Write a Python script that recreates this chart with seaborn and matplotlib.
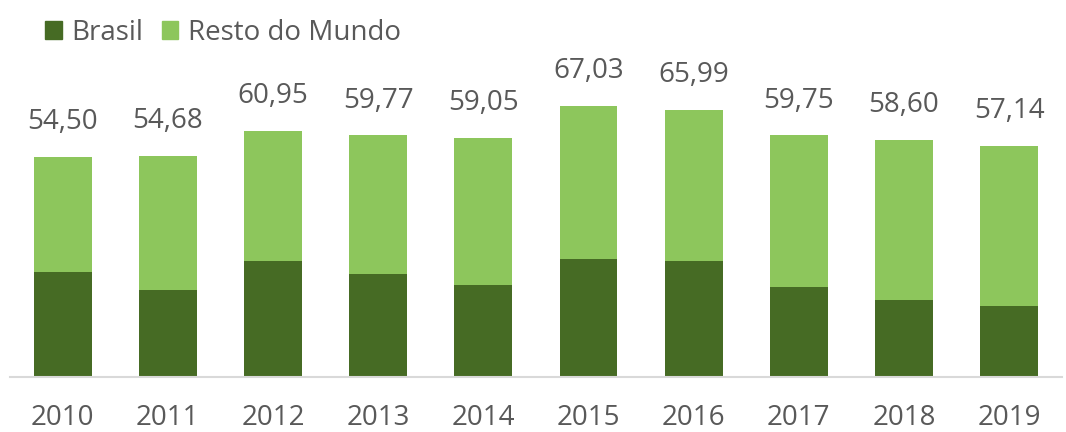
import pandas as pd
import seaborn as sns
import matplotlib.pyplot as plt
from matplotlib.patches import Patch

# ==========================================================
# DATA
# ==========================================================

years = ["2010", "2011", "2012", "2013", "2014", "2015", "2016", "2017", "2018", "2019"]
total = [54.50, 54.68, 60.95, 59.77, 59.05, 67.03, 65.99, 59.75, 58.60, 57.14]
brasil = [26.1, 21.5, 28.8, 25.4, 22.8, 29.2, 28.8, 22.4, 19.0, 17.7]

DARK = "#466B24"
LIGHT = "#8DC65C"
TEXT = "#595959"
FONT = "Open Sans"

df = pd.DataFrame({"ano": years, "total": total, "brasil": brasil})

# ==========================================================
# PLOT
# ==========================================================

sns.set_style("white")
plt.rcParams["font.family"] = [FONT, "DejaVu Sans"]

fig = plt.figure(figsize=(10.66, 4.32), dpi=100)
ax = fig.add_axes([0.0094, 0.127, 0.9866, 0.734])

# stacked look: total bar (light) with Brasil bar (dark) drawn over it
sns.barplot(data=df, x="ano", y="total", color=LIGHT, width=0.55,
            saturation=1, linewidth=0, ax=ax)
sns.barplot(data=df, x="ano", y="brasil", color=DARK, width=0.55,
            saturation=1, linewidth=0, ax=ax)

for i, v in enumerate(total):
    ax.annotate(f"{v:.2f}".replace(".", ","), (i, v), xytext=(0, 15),
                textcoords="offset points", ha="center", va="bottom",
                fontsize=20, color=TEXT)

ax.set_ylim(0, 78.4)
ax.set_xlim(-0.5, 9.5)
ax.set_xlabel("")
ax.set_ylabel("")
ax.set_yticks([])
ax.tick_params(axis="x", length=0, pad=19, labelsize=20, labelcolor=TEXT)
for s in ["top", "right", "left"]:
    ax.spines[s].set_visible(False)
ax.spines["bottom"].set_color("#D9D9D9")
ax.spines["bottom"].set_linewidth(1.5)

handles = [Patch(color=DARK, label="Brasil"),
           Patch(color=LIGHT, label="Resto do Mundo")]
fig.legend(handles=handles, loc="upper left", bbox_to_anchor=(0.019, 1.015),
           ncol=2, frameon=False, fontsize=20, labelcolor=TEXT,
           handlelength=0.6, handleheight=0.6, handletextpad=0.35,
           columnspacing=0.65)

fig.savefig("out.png", dpi=100)
